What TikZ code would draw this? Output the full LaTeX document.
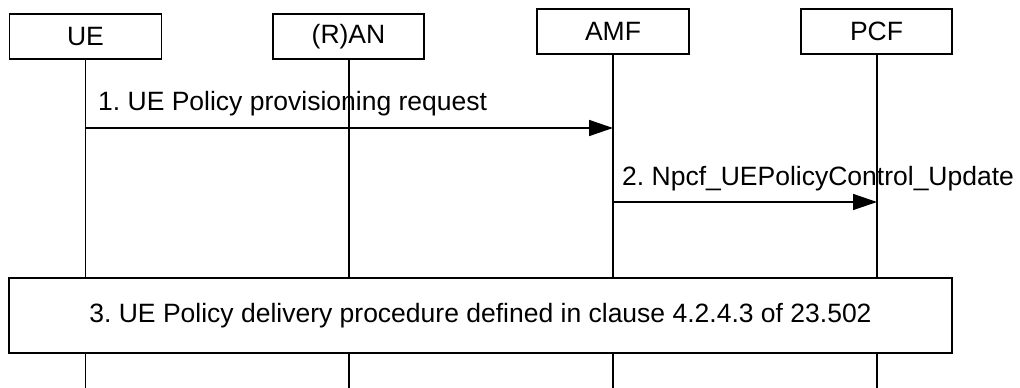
\documentclass[tikz,border=0pt]{standalone}
\usepackage{fontspec}
\setmainfont{Liberation Sans}
\usetikzlibrary{arrows.meta}
\frenchspacing
\begin{document}
\begin{tikzpicture}[x=1pt,y=-1pt,
  every node/.style={font=\fontsize{26.5}{30}\selectfont},
  entity/.style={draw,line width=1.5pt,minimum height=45pt,inner sep=0pt,fill=white},
  life/.style={line width=1.5pt},
  msg/.style={line width=1.5pt,-{Triangle[length=24pt,width=16pt]}},
  proc/.style={draw,line width=1.5pt,minimum width=943pt,minimum height=75pt,inner sep=0pt,fill=white},
  lbl/.style={anchor=base west,inner sep=0pt}]
\useasboundingbox (0,0) rectangle (1020,388);
% entities
\node[entity,minimum width=152pt] (ue) at (85.5,36.5) {UE};
\node[entity,minimum width=151pt] (ran) at (348.5,36.5) {(R)AN};
\node[entity,minimum width=152pt] (amf) at (613,31.5) {AMF};
\node[entity,minimum width=151pt] (pcf) at (876.5,31.5) {PCF};
% lifeline ends
\coordinate (ueEnd) at (85.5,388);
\coordinate (ranEnd) at (349,388);
\coordinate (amfEnd) at (613,388);
\coordinate (pcfEnd) at (877,388);
\draw[life] (85.5,59) -- (ueEnd);
\draw[life] (349,59) -- (ranEnd);
\draw[life] (amf.south) -- (amfEnd);
\draw[life] (877,54) -- (pcfEnd);
% message 1
\coordinate (m1s) at (85.5,128);
\coordinate (m1e) at (613,128);
\draw[msg] (m1s) -- (m1e);
\node[lbl] (l1) at (98,110) {1. UE Policy provisioning request};
% message 2
\coordinate (m2s) at (613,202);
\coordinate (m2e) at (877,202);
\draw[msg] (m2s) -- (m2e);
\node[lbl] (l2) at (622,185) {2. Npcf\_UEPolicyControl\_Update};
% procedure box
\node[proc] (p3) at (480.5,315.5) {3. UE Policy delivery procedure defined in clause 4.2.4.3 of 23.502};
\end{tikzpicture}
\end{document}
